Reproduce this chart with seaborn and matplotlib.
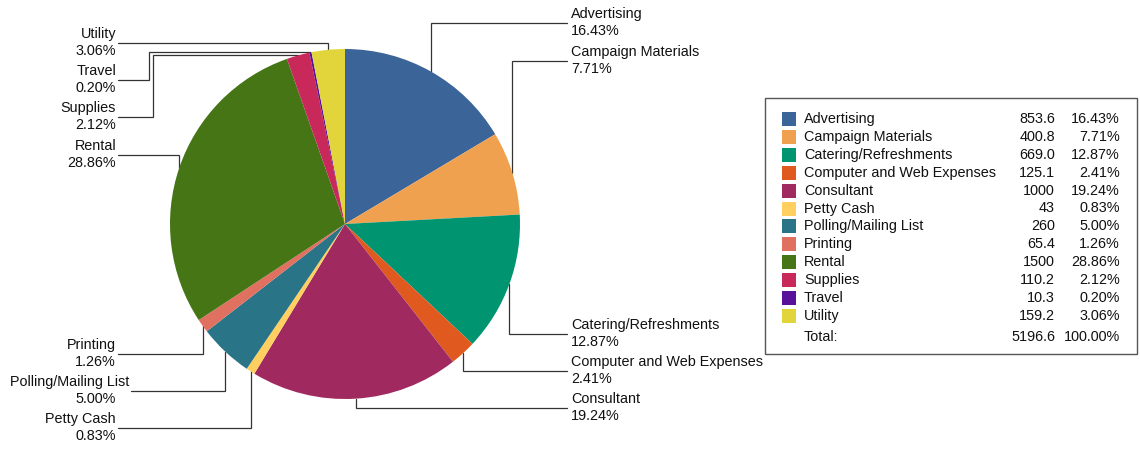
import matplotlib
matplotlib.use("Agg")
import matplotlib.pyplot as plt
import seaborn as sns
from matplotlib.patches import Rectangle
import numpy as np

# chart data
categories = ["Advertising", "Campaign Materials", "Catering/Refreshments",
              "Computer and Web Expenses", "Consultant", "Petty Cash",
              "Polling/Mailing List", "Printing", "Rental", "Supplies",
              "Travel", "Utility"]
amounts = [853.6, 400.8, 669.0, 125.1, 1000, 43, 260, 65.4, 1500, 110.2, 10.3, 159.2]
amount_labels = ["853.6", "400.8", "669.0", "125.1", "1000", "43", "260", "65.4",
                 "1500", "110.2", "10.3", "159.2"]
pct_labels = ["16.43%", "7.71%", "12.87%", "2.41%", "19.24%", "0.83%", "5.00%",
              "1.26%", "28.86%", "2.12%", "0.20%", "3.06%"]
total_label = "5196.6"
total_pct_label = "100.00%"
colors = ["#3b6599", "#f0a150", "#009470", "#e05a20", "#a0295f", "#ffd060",
          "#2a7488", "#e07060", "#467516", "#c8285a", "#5a1199", "#e2d53c"]

# label layout (pixel rows from top), elbow x for the few routed sideways
label_y = [23, 61, 334, 371, 408, 428, 391, 354, 155, 117, 80, 43]
elbow_x = [None, None, None, None, None, None, None, None, None, 153, 149, None]

sns.set_theme(style="white")
plt.rcParams["font.family"] = ["Liberation Sans", "DejaVu Sans"]
FS = 10.4
TXT = "#111111"

W, H = 1140, 450
fig = plt.figure(figsize=(W / 100, H / 100), dpi=100)
ax = fig.add_axes([0, 0, 1, 1])
cx, cy, R = 345, H - 224, 175

palette = sns.color_palette(colors)

wedges, _ = ax.pie(amounts, colors=palette, startangle=90, counterclock=False,
                   radius=R, center=(cx, cy), wedgeprops=dict(linewidth=0))
ax.set_xlim(0, W)
ax.set_ylim(0, H)
ax.axis("off")
renderer = fig.canvas.get_renderer()

line_kw = dict(color="#333333", lw=0.9, zorder=0, solid_joinstyle="miter")
for w, name, p, ly, ex_ in zip(wedges, categories, pct_labels, label_y, elbow_x):
    mid = np.deg2rad((w.theta1 + w.theta2) / 2)
    ex = cx + R * np.cos(mid)
    ey = cy + R * np.sin(mid)
    yy = H - ly
    if ex > cx:
        end_x, tx, ha = 567, 571, "left"
    else:
        end_x, tx, ha = 118, 116, "right"
    t = ax.text(tx, yy + 9, name, ha=ha, va="center", fontsize=FS, color=TXT)
    ax.text(tx, yy - 8, p, ha=ha, va="center", fontsize=FS, color=TXT)
    if ha == "right":
        # push long names back inside the left edge, and meet them with the line
        bb = t.get_window_extent(renderer)
        if bb.x0 < 10:
            t.set_x(tx + 10 - bb.x0)
            end_x = tx + 10 - bb.x0 + 2
    if ex_ is None:
        xs = [ex, ex, end_x]
        ys = [ey, yy, yy]
    else:
        xs = [ex, ex_, ex_, end_x]
        ys = [ey, ey, yy, yy]
    ax.plot(xs, ys, **line_kw)

# legend table
ax.add_patch(Rectangle((765, H - 354), 372, 256, fill=False, edgecolor="#555555", lw=1))
row0, step = 119, 17.9
for i, (name, lab, p) in enumerate(zip(categories, amount_labels, pct_labels)):
    y = H - (row0 + i * step)
    ax.add_patch(Rectangle((782, y - 7), 14, 14, facecolor=palette[i], edgecolor="none"))
    ax.text(804, y, name, ha="left", va="center", fontsize=FS, color=TXT)
    ax.text(1055, y, lab, ha="right", va="center", fontsize=FS, color=TXT)
    ax.text(1120, y, p, ha="right", va="center", fontsize=FS, color=TXT)
y = H - 337
ax.text(804, y, "Total:", ha="left", va="center", fontsize=FS, color=TXT)
ax.text(1055, y, total_label, ha="right", va="center", fontsize=FS, color=TXT)
ax.text(1120, y, total_pct_label, ha="right", va="center", fontsize=FS, color=TXT)

fig.savefig("out.png", dpi=100, facecolor="white")
